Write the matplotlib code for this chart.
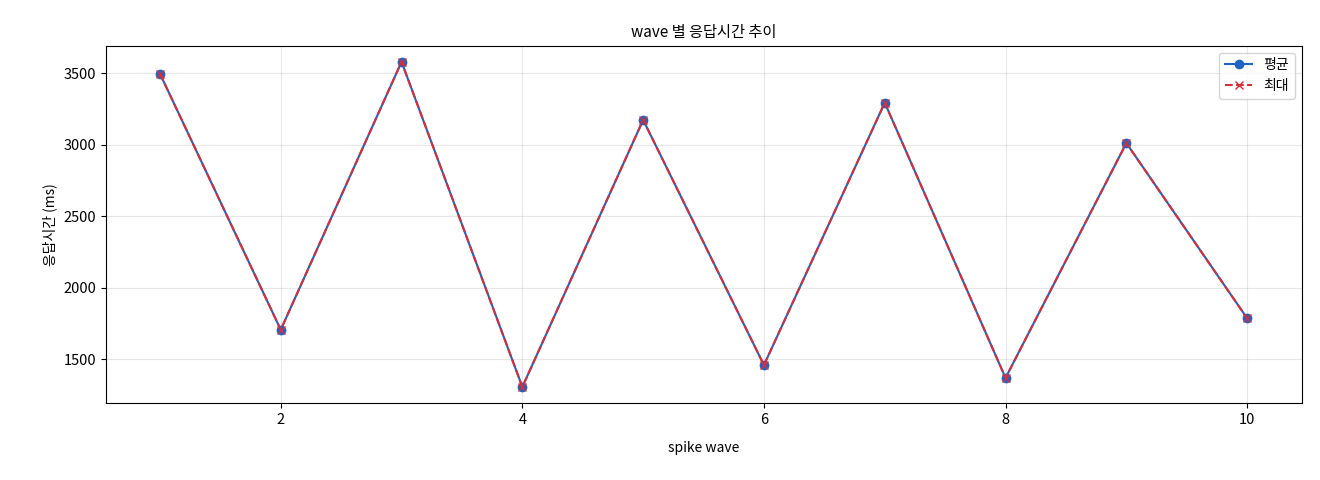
import matplotlib
matplotlib.use("Agg")
import matplotlib.pyplot as plt

plt.rcParams['font.family'] = ['Noto Sans CJK KR', 'DejaVu Sans']
plt.rcParams['axes.unicode_minus'] = False

waves = [1, 2, 3, 4, 5, 6, 7, 8, 9, 10]
avg_ms = [3495, 1705, 3578, 1305, 3172, 1458, 3292, 1368, 3010, 1785]
max_ms = [3495, 1705, 3578, 1305, 3172, 1458, 3292, 1368, 3010, 1785]

fig, ax = plt.subplots(figsize=(13.2, 4.8), dpi=100)
fig.subplots_adjust(left=0.08, right=0.986, top=0.905, bottom=0.16)
ax.plot(waves, avg_ms, marker='o', color='#1f63c4', label='평균', markersize=6)
ax.plot(waves, max_ms, marker='x', linestyle='--', color='#d62f3a', label='최대', markersize=6)
ax.set_title('wave 별 응답시간 추이', fontsize=11)
ax.set_xlabel('spike wave', labelpad=10)
ax.set_ylabel('응답시간 (ms)')
ax.tick_params(labelsize=10.5)
ax.grid(True, alpha=0.3)
ax.legend(loc='upper right')
fig.savefig('out.png')
